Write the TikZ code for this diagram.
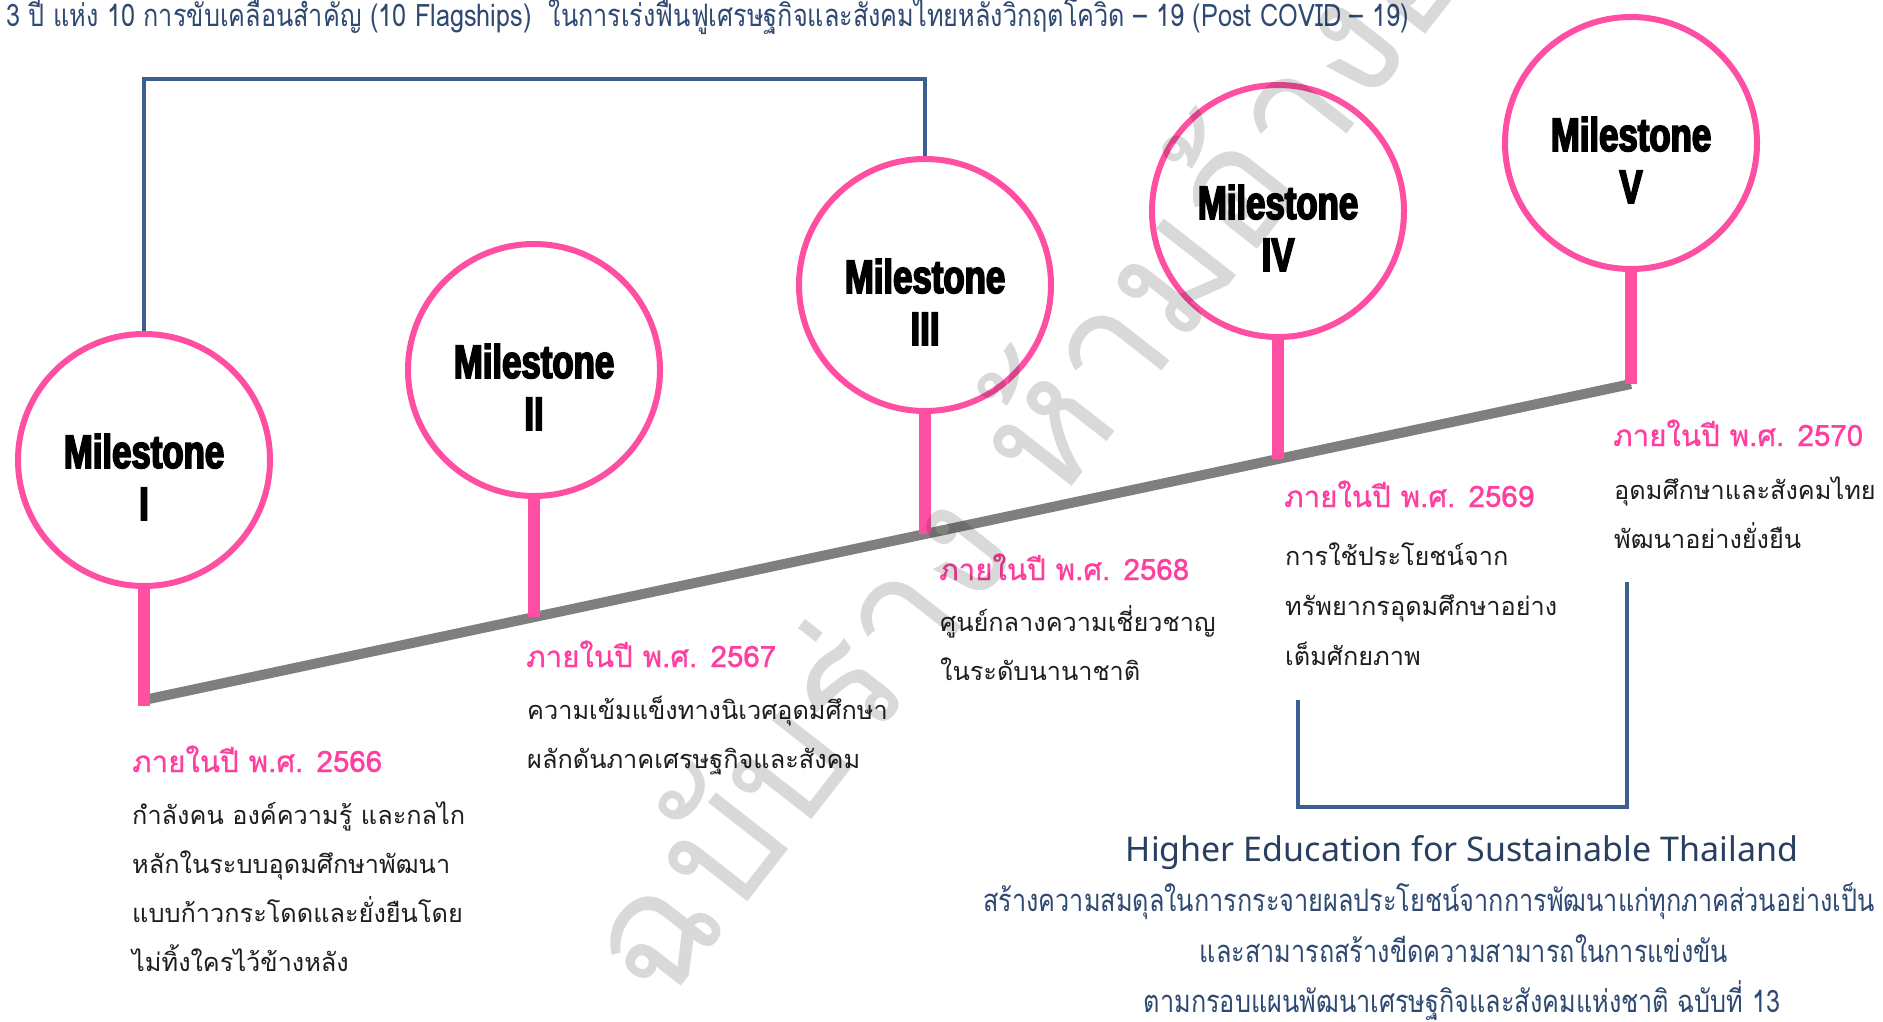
\documentclass[tikz,border=0pt]{standalone}
\usepackage{fontspec}
\usetikzlibrary{calc}
\newfontfamily\thaifont[Script=Thai]{Loma}
\newfontfamily\thaihead[Script=Thai,FakeBold=0.8]{Loma}
\newfontfamily\thaicond[Script=Thai,FakeStretch=0.815]{Loma}
\newfontfamily\msfont[FakeStretch=0.74,FakeBold=3.5]{Liberation Sans Bold}
\newfontfamily\enfont{Noto Sans}

\definecolor{pinkline}{HTML}{FF4FA3}
\definecolor{pinktext}{HTML}{FF3FA0}
\definecolor{grayline}{HTML}{7F7F7F}
\definecolor{blueline}{HTML}{3D5F8F}
\definecolor{navy}{HTML}{2F4A72}
\definecolor{bodytext}{HTML}{1E1E1E}

\tikzset{
  mscircle/.style={circle, draw=pinkline, line width=6pt, fill=white,
    minimum size=252pt, inner sep=0pt},
  mslabel/.style={anchor=base, inner sep=0pt, text=black,
    font=\msfont\fontsize{47}{49}\selectfont},
  stem/.style={draw=pinkline, line width=12pt},
  timeline/.style={draw=grayline, line width=10pt},
  bracket/.style={draw=blueline, line width=3.5pt},
  yearhead/.style={anchor=base west, inner sep=0pt, text=pinktext,
    font=\thaihead\fontsize{29.5}{32}\selectfont},
  yearbody/.style={anchor=base west, inner sep=0pt, text=bodytext,
    font=\thaifont\fontsize{25.3}{30}\selectfont},
  navyline/.style={anchor=base, inner sep=0pt, text=navy,
    font=\thaicond\fontsize{31}{34}\selectfont},
  watermark/.style={anchor=mid west, inner sep=0pt, text=black, text opacity=0.15,
    font=\thaifont\fontsize{165}{175}\selectfont}
}

\begin{document}
\begin{tikzpicture}[x=1pt,y=-1pt]
  \fill[white] (0,0) rectangle (1883,1021);
  \useasboundingbox (0,0) rectangle (1883,1021);

  % header
  \node[anchor=base west, inner sep=0pt, text=navy,
        font=\thaicond\fontsize{31}{34}\selectfont] (title) at (6,26)
    {3 ปี แห่ง 10 การขับเคลื่อนสำคัญ (10 Flagships)\ \ ในการเร่งฟื้นฟูเศรษฐกิจและสังคมไทยหลังวิกฤตโควิด – 19 (Post COVID – 19)};

  % points on the rising time line
  \coordinate (b1) at (144,700);
  \coordinate (b2) at (534,617);
  \coordinate (b3) at (925,534);
  \coordinate (b4) at (1278,459);
  \coordinate (b5) at (1631,384);
  \coordinate (s1) at (144,706);

  \draw[timeline] (b1) -- (b5);

  % milestone circles
  \node[mscircle] (m1) at (144,460) {};
  \node[mscircle] (m2) at (534,370) {};
  \node[mscircle] (m3) at (925,285) {};
  \node[mscircle] (m4) at (1278,211) {};
  \node[mscircle] (m5) at (1631,143) {};

  \draw[stem] (m1.south) -- (s1);
  \draw[stem] (m2.south) -- (b2);
  \draw[stem] (m3.south) -- (b3);
  \draw[stem] (m4.south) -- (b4);
  \draw[stem] (m5.south) -- (b5);

  \node[mslabel] (m1a) at ($(m1.center)+(0,8)$) {Milestone};
  \node[mslabel] (m1b) at ($(m1.center)+(0,60)$) {I};
  \node[mslabel] (m2a) at ($(m2.center)+(0,8)$) {Milestone};
  \node[mslabel] (m2b) at ($(m2.center)+(0,60)$) {II};
  \node[mslabel] (m3a) at ($(m3.center)+(0,8)$) {Milestone};
  \node[mslabel] (m3b) at ($(m3.center)+(0,60)$) {III};
  \node[mslabel] (m4a) at ($(m4.center)+(0,8)$) {Milestone};
  \node[mslabel] (m4b) at ($(m4.center)+(0,60)$) {IV};
  \node[mslabel] (m5a) at ($(m5.center)+(0,8)$) {Milestone};
  \node[mslabel] (m5b) at ($(m5.center)+(0,60)$) {V};

  % bracket joining milestones I and III
  \coordinate (topbar) at (534,79);
  \draw[bracket] (m1.north) |- (topbar) -| (m3.north);

  % bracket under milestones IV and V
  \coordinate (br1) at (1298,700);
  \coordinate (br2) at (1627,582);
  \coordinate (brbase) at (0,807);
  \draw[bracket] (br1) -- (br1 |- brbase) -- (br2 |- brbase) -- (br2);

  % year captions
  \node[yearhead] (y1) at (132,772) {ภายในปี พ.ศ. 2566};
  \node[yearbody] (y1a) at (132,824) {กำลังคน องค์ความรู้ และกลไก};
  \node[yearbody] (y1b) at (132,873) {หลักในระบบอุดมศึกษาพัฒนา};
  \node[yearbody] (y1c) at (132,922) {แบบก้าวกระโดดและยั่งยืนโดย};
  \node[yearbody] (y1d) at (132,971) {ไม่ทิ้งใครไว้ข้างหลัง};

  \node[yearhead] (y2) at (526,667) {ภายในปี พ.ศ. 2567};
  \node[yearbody] (y2a) at (527,719) {ความเข้มแข็งทางนิเวศอุดมศึกษา};
  \node[yearbody] (y2b) at (527,768) {ผลักดันภาคเศรษฐกิจและสังคม};

  \node[yearhead] (y3) at (939,580) {ภายในปี พ.ศ. 2568};
  \node[yearbody] (y3a) at (940,631) {ศูนย์กลางความเชี่ยวชาญ};
  \node[yearbody] (y3b) at (940,680) {ในระดับนานาชาติ};

  \node[yearhead] (y4) at (1284,507) {ภายในปี พ.ศ. 2569};
  \node[yearbody] (y4a) at (1285,565) {การใช้ประโยชน์จาก};
  \node[yearbody] (y4b) at (1285,615) {ทรัพยากรอุดมศึกษาอย่าง};
  \node[yearbody] (y4c) at (1285,665) {เต็มศักยภาพ};

  \node[yearhead] (y5) at (1613,446) {ภายในปี พ.ศ. 2570};
  \node[yearbody] (y5a) at (1614,499) {อุดมศึกษาและสังคมไทย};
  \node[yearbody] (y5b) at (1614,548) {พัฒนาอย่างยั่งยืน};

  % goal statement
  \node[anchor=base, inner sep=0pt, text=navy!85!black,
        font=\enfont\fontsize{34}{37}\selectfont] (goal) at (1462,861)
    {Higher Education for Sustainable Thailand};
  \node[navyline, anchor=base west] (g1) at (983,911)
    {สร้างความสมดุลในการกระจายผลประโยชน์จากการพัฒนาแก่ทุกภาคส่วนอย่างเป็น};
  \node[navyline] (g2) at (1464,962) {และสามารถสร้างขีดความสามารถในการแข่งขัน};
  \node[navyline] (g3) at (1462,1012) {ตามกรอบแผนพัฒนาเศรษฐกิจและสังคมแห่งชาติ ฉบับที่ 13};

  % draft stamp across the page
  \begin{scope}
    \clip (0,0) rectangle (1883,1021);
    \node[watermark, rotate=52] (wm) at (660,1010) {ฉบับร่าง ห้ามอ้างอิง};
  \end{scope}
\end{tikzpicture}
\end{document}
